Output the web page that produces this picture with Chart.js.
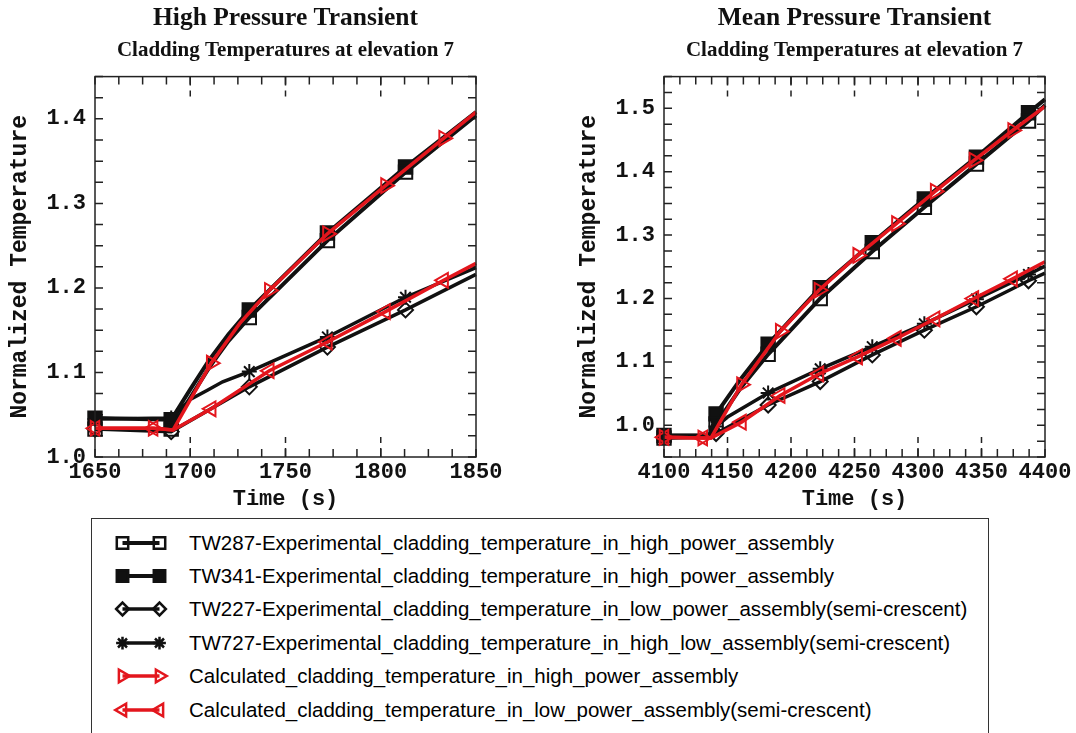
<!DOCTYPE html>
<html>
<head>
<meta charset="utf-8">
<script src="https://cdn.jsdelivr.net/npm/chart.js@4.4.1/dist/chart.umd.min.js"></script>
<style>
  html, body { margin: 0; padding: 0; background: #fff; }
  body { width: 1076px; height: 733px; position: relative; overflow: hidden; }
  .panel { position: absolute; top: 0; width: 507px; height: 515px; }
  #legend { position: absolute; left: 91px; top: 518px; width: 898px; height: 240px;
            border: 1.5px solid #333; box-sizing: border-box;
            font-family: "Liberation Sans", Arial, sans-serif; font-size: 20.5px; color: #000; }
  .sym { position: absolute; left: 20px; }
  .txt { position: absolute; left: 97px; white-space: nowrap; line-height: 24px; }
</style>
</head>
<body>
<div class="panel" style="left:0"><canvas id="highChart" width="507" height="515"></canvas></div>
<div class="panel" style="left:569px"><canvas id="meanChart" width="507" height="515"></canvas></div>
<div id="legend"></div>
<script>
// ---- High pressure transient (left panel): [time s, normalized temperature]
const hpXTicks = [1650, 1700, 1750, 1800, 1850];
const hpYTicks = [1.0, 1.1, 1.2, 1.3, 1.4];
const hpExpMarks = [1650, 1690, 1731, 1772, 1813];
const hpCalcMarks = [1650, 1680.5, 1711, 1741.5, 1772, 1802.5, 1833];
const hpTW287 = [[1650,1.033],[1690,1.033],[1700,1.070],[1710,1.106],[1720,1.137],[1731,1.165],[1772,1.256],[1813,1.337],[1850,1.404]];
const hpTW341 = [[1650,1.046],[1690,1.044],[1700,1.080],[1710,1.115],[1720,1.145],[1731,1.174],[1772,1.265],[1813,1.343],[1850,1.408]];
const hpTW227 = [[1650,1.033],[1690,1.030],[1731,1.083],[1772,1.130],[1813,1.174],[1850,1.216]];
const hpTW727 = [[1650,1.045],[1690,1.046],[1700,1.068],[1709,1.079],[1717,1.089],[1731,1.101],[1772,1.142],[1813,1.189],[1850,1.224]];
const hpCalcHigh = [[1650,1.034],[1680.5,1.034],[1691,1.032],[1711,1.111],[1726,1.158],[1741.5,1.197],[1772,1.264],[1802.5,1.321],[1833,1.377],[1850,1.408]];
const hpCalcLow = [[1650,1.034],[1680.5,1.034],[1691,1.032],[1711,1.057],[1741.5,1.102],[1772,1.136],[1802.5,1.172],[1833,1.209],[1850,1.229]];

// ---- Mean pressure transient (right panel)
const mpXTicks = [4100, 4150, 4200, 4250, 4300, 4350, 4400];
const mpYTicks = [1.0, 1.1, 1.2, 1.3, 1.4, 1.5];
const mpExpMarks = [4100, 4141, 4182, 4223, 4264, 4305, 4346, 4387];
const mpCalcMarks = [4100, 4130.5, 4161, 4191.5, 4222, 4252.5, 4283, 4313.5, 4344, 4374.5];
const mpTW287 = [[4100,0.980],[4136,0.982],[4141,1.002],[4160,1.058],[4182,1.112],[4223,1.200],[4264,1.274],[4305,1.344],[4346,1.412],[4387,1.480],[4400,1.505]];
const mpTW341 = [[4100,0.984],[4136,0.984],[4141,1.018],[4160,1.072],[4182,1.128],[4223,1.217],[4264,1.288],[4305,1.357],[4346,1.423],[4387,1.493],[4400,1.514]];
const mpTW227 = [[4100,0.982],[4137,0.982],[4141,0.987],[4182,1.032],[4223,1.069],[4264,1.111],[4305,1.150],[4346,1.187],[4387,1.228],[4400,1.240]];
const mpTW727 = [[4100,0.984],[4136,0.984],[4141,0.998],[4150,1.013],[4182,1.051],[4223,1.089],[4264,1.124],[4305,1.160],[4346,1.199],[4387,1.238],[4400,1.251]];
const mpCalcHigh = [[4100,0.981],[4130.5,0.980],[4137,0.980],[4161,1.064],[4191.5,1.148],[4222,1.213],[4252.5,1.268],[4283,1.318],[4313.5,1.369],[4344,1.418],[4374.5,1.465],[4400,1.503]];
const mpCalcLow = [[4100,0.981],[4130.5,0.980],[4137,0.980],[4161,1.005],[4191.5,1.047],[4222,1.081],[4252.5,1.108],[4283,1.137],[4313.5,1.168],[4344,1.200],[4374.5,1.231],[4400,1.258]];

const seriesLabels = [
  'TW287-Experimental_cladding_temperature_in_high_power_assembly',
  'TW341-Experimental_cladding_temperature_in_high_power_assembly',
  'TW227-Experimental_cladding_temperature_in_low_power_assembly(semi-crescent)',
  'TW727-Experimental_cladding_temperature_in_high_low_assembly(semi-crescent)',
  'Calculated_cladding_temperature_in_high_power_assembly',
  'Calculated_cladding_temperature_in_low_power_assembly(semi-crescent)'
];

const RED = '#e3161d';
const INK = '#111';
const NONE = 'rgba(0,0,0,0)';
const styles = [
  {color: INK, width: 4, point: 'rect', fill: NONE, r: 9.5, order: 1},
  {color: INK, width: 4, point: 'rect', fill: INK, r: 9.5, order: 1},
  {color: INK, width: 3.5, point: 'rectRot', fill: NONE, r: 7.5, order: 1},
  {color: INK, width: 3.5, point: 'star', fill: NONE, r: 7.5, order: 1},
  {color: RED, width: 3.5, point: 'triangle', rot: 90, fill: NONE, r: 8.5, order: 0},
  {color: RED, width: 3.5, point: 'triangle', rot: 270, fill: NONE, r: 8.5, order: 0}
];

const mono = (size) => ({family: '"Liberation Mono", "Courier New", monospace', size: size, weight: 'bold'});
const serif = (size) => ({family: '"Liberation Serif", "Times New Roman", serif', size: size, weight: 'bold'});

// frame around the plot with inward ticks on all four sides
const framePlugin = {
  id: 'frame',
  beforeDatasetsDraw(chart, args, opts) {
    const {ctx, chartArea: a, scales: {x, y}} = chart;
    ctx.save();
    ctx.strokeStyle = '#222';
    ctx.lineWidth = 1.5;
    ctx.beginPath();
    for (let v = x.min; v <= x.max + 1e-6; v += opts.xStep) {
      const px = x.getPixelForValue(v);
      ctx.moveTo(px, a.bottom); ctx.lineTo(px, a.bottom - 8);
      ctx.moveTo(px, a.top); ctx.lineTo(px, a.top + 8);
    }
    for (let v = y.min; v <= y.max + 1e-6; v += opts.yStep) {
      const py = y.getPixelForValue(v);
      ctx.moveTo(a.left, py); ctx.lineTo(a.left + 8, py);
      ctx.moveTo(a.right, py); ctx.lineTo(a.right - 8, py);
    }
    ctx.stroke();
    ctx.setLineDash([9, 5]);
    ctx.beginPath();
    opts.xMajor.slice(1, -1).forEach(v => {
      const px = x.getPixelForValue(v);
      ctx.moveTo(px, a.bottom); ctx.lineTo(px, a.bottom - 20);
      ctx.moveTo(px, a.top); ctx.lineTo(px, a.top + 20);
    });
    ctx.stroke();
    ctx.restore();
  },
  afterDatasetsDraw(chart) {
    const {ctx, chartArea: a} = chart;
    ctx.save();
    ctx.strokeStyle = '#222';
    ctx.lineWidth = 1.5;
    ctx.strokeRect(a.left, a.top, a.right - a.left, a.bottom - a.top);
    ctx.restore();
  }
};

function series(i, pts, marks) {
  const st = styles[i];
  return {
    label: seriesLabels[i],
    data: pts.map(([x, y]) => ({x, y})),
    borderColor: st.color,
    borderWidth: st.width,
    pointStyle: st.point,
    pointRotation: st.rot || 0,
    pointBackgroundColor: st.fill,
    pointBorderColor: st.color,
    pointBorderWidth: 2,
    pointRadius: c => (c.raw && marks.includes(c.raw.x)) ? st.r : 0,
    tension: 0,
    order: st.order,
    clip: 12
  };
}

function makeChart(id, cfg) {
  return new Chart(document.getElementById(id), {
    type: 'line',
    data: {datasets: cfg.datasets},
    options: {
      responsive: false,
      animation: false,
      events: [],
      layout: {padding: {right: 31}},
      plugins: {
        legend: {display: false},
        tooltip: {enabled: false},
        title: {display: true, text: cfg.title, fullSize: false, color: INK, font: serif(25.5), padding: {top: 3, bottom: 0}},
        subtitle: {display: true, text: 'Cladding Temperatures at elevation 7', fullSize: false, color: INK,
                   font: serif(21), padding: {top: 4, bottom: 13.8}},
        frame: {xStep: 12.5, yStep: 0.025, xMajor: cfg.xTicks}
      },
      scales: {
        x: {
          type: 'linear', min: cfg.xMin, max: cfg.xMax,
          afterBuildTicks: s => { s.ticks = cfg.xTicks.map(v => ({value: v})); },
          afterFit: s => { s.height = 58; },
          grid: {display: false, drawTicks: false},
          border: {display: false},
          ticks: {font: mono(22), color: INK, padding: 2, maxRotation: 0, autoSkip: false, callback: v => String(v)},
          title: {display: true, text: 'Time (s)', font: mono(22), color: INK, padding: {top: 0, bottom: 2}}
        },
        y: {
          type: 'linear', min: cfg.yMin, max: cfg.yMax,
          afterBuildTicks: s => { s.ticks = cfg.yTicks.map(v => ({value: v})); },
          afterFit: s => { s.width = 95; },
          grid: {display: false, drawTicks: false},
          border: {display: false},
          ticks: {font: mono(22), color: INK, padding: 9, autoSkip: false, callback: v => v.toFixed(1)},
          title: {display: true, text: 'Normalized Temperature', font: mono(23), color: INK, padding: {top: 6, bottom: 0}}
        }
      }
    },
    plugins: [framePlugin]
  });
}

makeChart('highChart', {
  title: 'High Pressure Transient',
  xMin: 1650, xMax: 1850, yMin: 1.0, yMax: 1.45,
  xTicks: hpXTicks, yTicks: hpYTicks,
  datasets: [
    series(0, hpTW287, hpExpMarks),
    series(1, hpTW341, hpExpMarks),
    series(2, hpTW227, hpExpMarks),
    series(3, hpTW727, hpExpMarks),
    series(4, hpCalcHigh, hpCalcMarks),
    series(5, hpCalcLow, hpCalcMarks)
  ]
});

makeChart('meanChart', {
  title: 'Mean Pressure Transient',
  xMin: 4100, xMax: 4400, yMin: 0.95, yMax: 1.55,
  xTicks: mpXTicks, yTicks: mpYTicks,
  datasets: [
    series(0, mpTW287, mpExpMarks),
    series(1, mpTW341, mpExpMarks),
    series(2, mpTW227, mpExpMarks),
    series(3, mpTW727, mpExpMarks),
    series(4, mpCalcHigh, mpCalcMarks),
    series(5, mpCalcLow, mpCalcMarks)
  ]
});

// shared legend box below both panels
const legendEl = document.getElementById('legend');
seriesLabels.forEach((label, i) => {
  const st = styles[i];
  const cy = 23.5 + i * 33.4;
  const cv = document.createElement('canvas');
  cv.width = 60; cv.height = 24;
  cv.className = 'sym';
  cv.style.top = (cy - 12) + 'px';
  const g = cv.getContext('2d');
  g.strokeStyle = st.color;
  g.lineWidth = st.width;
  g.beginPath(); g.moveTo(10.5, 12); g.lineTo(47.5, 12); g.stroke();
  g.fillStyle = st.fill;
  g.lineWidth = 2.5;
  [10.5, 47.5].forEach(px => Chart.helpers.drawPoint(g,
    {pointStyle: st.point, radius: st.r * 0.85, rotation: st.rot || 0, borderWidth: 2.5}, px, 12));
  legendEl.appendChild(cv);
  const t = document.createElement('div');
  t.className = 'txt';
  t.style.top = (cy - 12) + 'px';
  t.textContent = label;
  legendEl.appendChild(t);
});
</script>
</body>
</html>
